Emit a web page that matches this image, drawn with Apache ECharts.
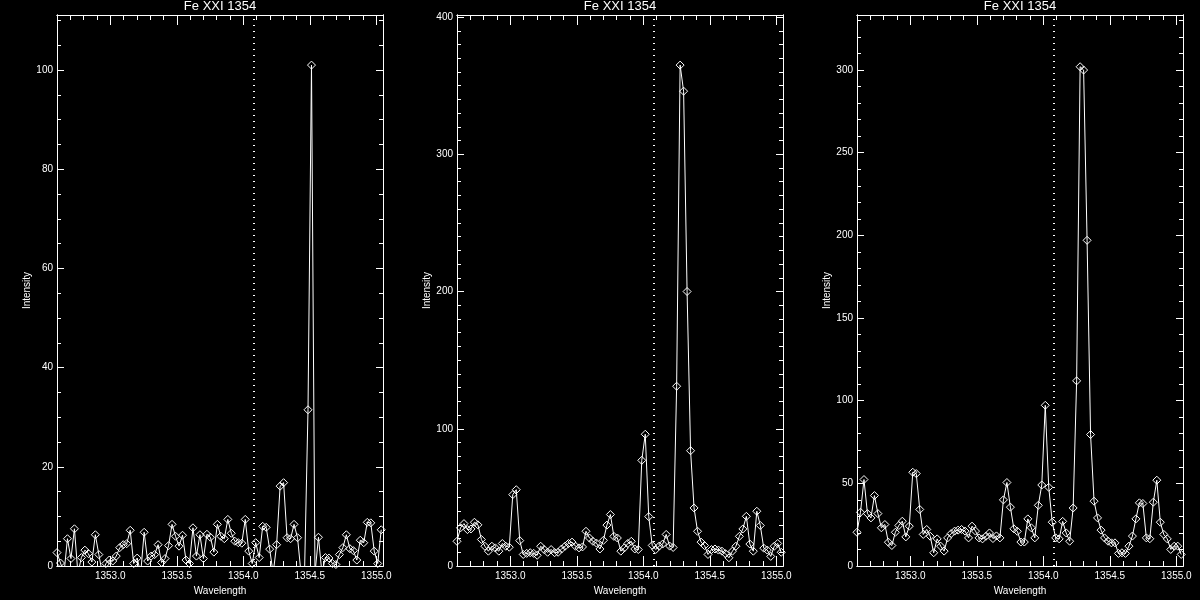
<!DOCTYPE html>
<html>
<head>
<meta charset="utf-8">
<title>Fe XXI 1354</title>
<script src="https://cdn.jsdelivr.net/npm/echarts@6/dist/echarts.min.js"></script>
<style>
  html, body { margin: 0; padding: 0; background: #000; }
  #chart { width: 1200px; height: 600px; }
</style>
</head>
<body>
<div id="chart"></div>
<script>
// wavelength grid in Angstrom, the same for the three spectra
const wavelength = [
  1352.6000, 1352.6262, 1352.6524, 1352.6786, 1352.7048, 1352.7310, 1352.7572, 1352.7834, 1352.8096, 1352.8358,
  1352.8620, 1352.8882, 1352.9144, 1352.9406, 1352.9668, 1352.9930, 1353.0192, 1353.0454, 1353.0716, 1353.0978,
  1353.1240, 1353.1502, 1353.1764, 1353.2026, 1353.2288, 1353.2550, 1353.2812, 1353.3074, 1353.3336, 1353.3598,
  1353.3860, 1353.4122, 1353.4384, 1353.4646, 1353.4908, 1353.5170, 1353.5432, 1353.5694, 1353.5956, 1353.6218,
  1353.6480, 1353.6742, 1353.7004, 1353.7266, 1353.7528, 1353.7790, 1353.8052, 1353.8314, 1353.8576, 1353.8838,
  1353.9100, 1353.9362, 1353.9624, 1353.9886, 1354.0148, 1354.0410, 1354.0672, 1354.0934, 1354.1196, 1354.1458,
  1354.1720, 1354.1982, 1354.2244, 1354.2506, 1354.2768, 1354.3030, 1354.3292, 1354.3554, 1354.3816, 1354.4078,
  1354.4340, 1354.4602, 1354.4864, 1354.5126, 1354.5388, 1354.5650, 1354.5912, 1354.6174, 1354.6436, 1354.6698,
  1354.6960, 1354.7222, 1354.7484, 1354.7746, 1354.8008, 1354.8270, 1354.8532, 1354.8794, 1354.9056, 1354.9318,
  1354.9580, 1354.9842, 1355.0104, 1355.0366
]

// left spectrum (negative points fall below the box and are clipped)
const intensityLeft = [
  2.7, 0.6, -1.5, 5.5, 1.5, 7.5, -1.5, 1.7, 3.2, 2.5,
  0.8, 6.3, 2.3, -1.5, 0.5, 1.2, 1.0, 2.0, 3.7, 4.3,
  4.5, 7.2, 0.5, 1.6, -1.5, 6.8, 1.0, 2.0, 2.3, 4.3,
  0.7, 1.5, 4.1, 8.4, 6.0, 4.0, 6.2, 1.2, 0.5, 7.7,
  2.0, 6.3, 1.5, 6.4, 5.8, 2.8, 8.4, 6.0, 5.5, 9.4,
  6.6, 5.0, 4.7, 4.6, 9.4, 3.0, 0.5, 4.7, 1.7, 8.0,
  7.8, 3.4, -1.5, 4.3, 16.1, 16.8, 5.7, 5.5, 8.4, 5.7,
  -1.5, -1.5, 31.5, 101, -1.5, 5.8, -1.5, 1.7, 1.6, 0.5,
  0.3, 2.3, 3.7, 6.3, 3.5, 3.1, 1.2, 5.2, 4.7, 8.8,
  8.7, 3.0, 0.5, 7.3
]

// middle spectrum
const intensityMiddle = [
  18, 27.8, 30.9, 26.5, 27, 31.9, 30, 19.3, 14.4, 10.8,
  14.4, 13.2, 10.8, 16.4, 14.4, 13.7, 52, 55.6, 18.5, 8.4,
  9.2, 9.7, 9.2, 7.8, 14.4, 12, 10, 12, 9.7, 10,
  12.4, 14.4, 16.4, 17.4, 14.4, 13.2, 13.9, 25.3, 20.4, 18,
  16.7, 12.4, 18.7, 29.8, 37.5, 21.6, 20.4, 10.8, 13.2, 16.4,
  18, 12.4, 12, 77, 96, 36, 15, 12, 14.5, 16,
  23, 14.5, 13.5, 131, 365, 346, 200, 84, 42.3, 25.3,
  17.4, 14.9, 8.4, 12, 12.4, 11.6, 10.8, 9, 6, 10.8,
  14.4, 21.6, 27, 36.2, 16, 10.8, 39.9, 29.5, 13, 11.6,
  7, 14.4, 16.4, 10
]

// right spectrum
const intensityRight = [
  20.4, 32.5, 52.3, 31.7, 29.1, 42.6, 31.7, 23.1, 25.1, 14.4,
  12.4, 20.4, 24.5, 27.1, 17.6, 24.1, 56.7, 55.9, 34.2, 19.1,
  22.1, 18, 8, 16.4, 12, 9, 17, 19.6, 21.1, 21.7,
  22.1, 21.1, 17, 24.1, 21.1, 17, 16.4, 18, 20, 16.6,
  18.2, 17, 40, 50.5, 35.6, 22.5, 21, 14.5, 14.5, 28.5,
  23.1, 17, 36.7, 49, 97.2, 47.6, 26.5, 17, 16.4, 27,
  20, 15, 35.1, 112, 302, 300, 197, 79.5, 39.2, 29.1,
  21.7, 17, 15, 14, 14, 7.6, 8, 7.6, 12, 18.1,
  28.5, 38.2, 37.8, 17, 16.5, 38.6, 51.9, 26.5, 19.1, 16.4,
  10, 12, 12, 7
]

// tick labels / positions
const xMajorTicks = [1353.0, 1353.5, 1354.0, 1354.5, 1355.0]
const xMinorTicks = [
  1352.6, 1352.7, 1352.8, 1352.9, 1353.1, 1353.2, 1353.3, 1353.4, 1353.6, 1353.7,
  1353.8, 1353.9, 1354.1, 1354.2, 1354.3, 1354.4, 1354.6, 1354.7, 1354.8, 1354.9
]
const yMajorLeft = [0, 20, 40, 60, 80, 100]
const yMinorLeft = [5, 10, 15, 25, 30, 35, 45, 50, 55, 65, 70, 75, 85, 90, 95, 105, 110]
const yMajorMiddle = [0, 100, 200, 300, 400]
const yMinorMiddle = [
  10, 20, 30, 40, 50, 60, 70, 80, 90, 110, 120, 130, 140, 150, 160, 170, 180, 190,
  210, 220, 230, 240, 250, 260, 270, 280, 290, 310, 320, 330, 340, 350, 360, 370, 380, 390
]
const yMajorRight = [0, 50, 100, 150, 200, 250, 300]
const yMinorRight = [
  10, 20, 30, 40, 60, 70, 80, 90, 110, 120, 130, 140, 160, 170, 180, 190,
  210, 220, 230, 240, 260, 270, 280, 290, 310, 320, 330
]

const lineCentre = 1354.08 // rest wavelength, dotted line
const panelTitle = 'Fe XXI 1354'

const xMin = 1352.6
const xMax = 1355.05
const white = '#fff'
const fontFamily = 'Liberation Sans'

const panels = [
  { left: 57, values: intensityLeft, yMax: 111.1, yMajor: yMajorLeft, yMinor: yMinorLeft },
  { left: 457, values: intensityMiddle, yMax: 401.5, yMajor: yMajorMiddle, yMinor: yMinorMiddle },
  { left: 857, values: intensityRight, yMax: 333.3, yMajor: yMajorRight, yMinor: yMinorRight }
]
const panelWidth = 326

function ticks(values, length) {
  return { show: true, inside: true, length, customValues: values, lineStyle: { color: white, width: 1 } }
}

// axis lines stay on the box edges, never on the zero of the other axis
const boxLine = { show: true, onZero: false, lineStyle: { color: white, width: 1 } }

// four x axes per box: labelled bottom, bottom minor, top major, top minor
function xAxesFor(gridIndex) {
  const base = {
    type: 'value', gridIndex, min: xMin, max: xMax,
    splitLine: { show: false },
    axisLine: boxLine
  }
  return [
    Object.assign({}, base, {
      position: 'bottom',
      axisTick: ticks(xMajorTicks, 10),
      axisLabel: {
        customValues: xMajorTicks, formatter: v => v.toFixed(1),
        color: white, fontSize: 10, fontFamily, margin: 5
      },
      name: 'Wavelength', nameLocation: 'middle', nameGap: 15,
      nameTextStyle: { color: white, fontSize: 10, fontFamily }
    }),
    Object.assign({}, base, { position: 'bottom', axisTick: ticks(xMinorTicks, 5), axisLabel: { show: false } }),
    Object.assign({}, base, { position: 'top', axisTick: ticks(xMajorTicks, 10), axisLabel: { show: false } }),
    Object.assign({}, base, { position: 'top', axisTick: ticks(xMinorTicks, 5), axisLabel: { show: false } })
  ]
}

function yAxesFor(gridIndex, p) {
  const base = {
    type: 'value', gridIndex, min: 0, max: p.yMax,
    splitLine: { show: false },
    axisLine: boxLine
  }
  return [
    Object.assign({}, base, {
      position: 'left',
      axisTick: ticks(p.yMajor, 7),
      axisLabel: { customValues: p.yMajor, color: white, fontSize: 10, fontFamily, margin: 4 },
      name: 'Intensity', nameLocation: 'middle', nameGap: 24,
      nameTextStyle: { color: white, fontSize: 10, fontFamily }
    }),
    Object.assign({}, base, { position: 'left', axisTick: ticks(p.yMinor, 4), axisLabel: { show: false } }),
    Object.assign({}, base, { position: 'right', axisTick: ticks(p.yMajor, 7), axisLabel: { show: false } }),
    Object.assign({}, base, { position: 'right', axisTick: ticks(p.yMinor, 4), axisLabel: { show: false } })
  ]
}

const chart = echarts.init(document.getElementById('chart'), null, { renderer: 'canvas' })

chart.setOption({
  backgroundColor: '#000',
  animation: false,
  title: panels.map(p => ({
    text: panelTitle,
    left: p.left + panelWidth / 2,
    top: 0,
    padding: 0,
    textAlign: 'center',
    textStyle: { color: white, fontSize: 13, fontWeight: 'normal', fontFamily }
  })),
  grid: panels.map(p => ({
    left: p.left,
    width: panelWidth,
    top: 15,
    bottom: 34,
    containLabel: false,
    outerBoundsMode: 'none'
  })),
  xAxis: panels.flatMap((p, k) => xAxesFor(k)),
  yAxis: panels.flatMap((p, k) => yAxesFor(k, p)),
  series: panels.map((p, k) => ({
    type: 'line',
    xAxisIndex: 4 * k,
    yAxisIndex: 4 * k,
    data: wavelength.map((w, i) => [w, p.values[i]]),
    clip: true,
    symbol: 'diamond',
    symbolSize: 8,
    lineStyle: { color: white, width: 1 },
    itemStyle: { color: 'rgba(0,0,0,0)', borderColor: white, borderWidth: 1 },
    emphasis: { disabled: true },
    markLine: {
      silent: true,
      symbol: 'none',
      label: { show: false },
      lineStyle: { color: white, width: 2, type: [1, 5] },
      data: [{ xAxis: lineCentre }]
    }
  }))
})
</script>
</body>
</html>
